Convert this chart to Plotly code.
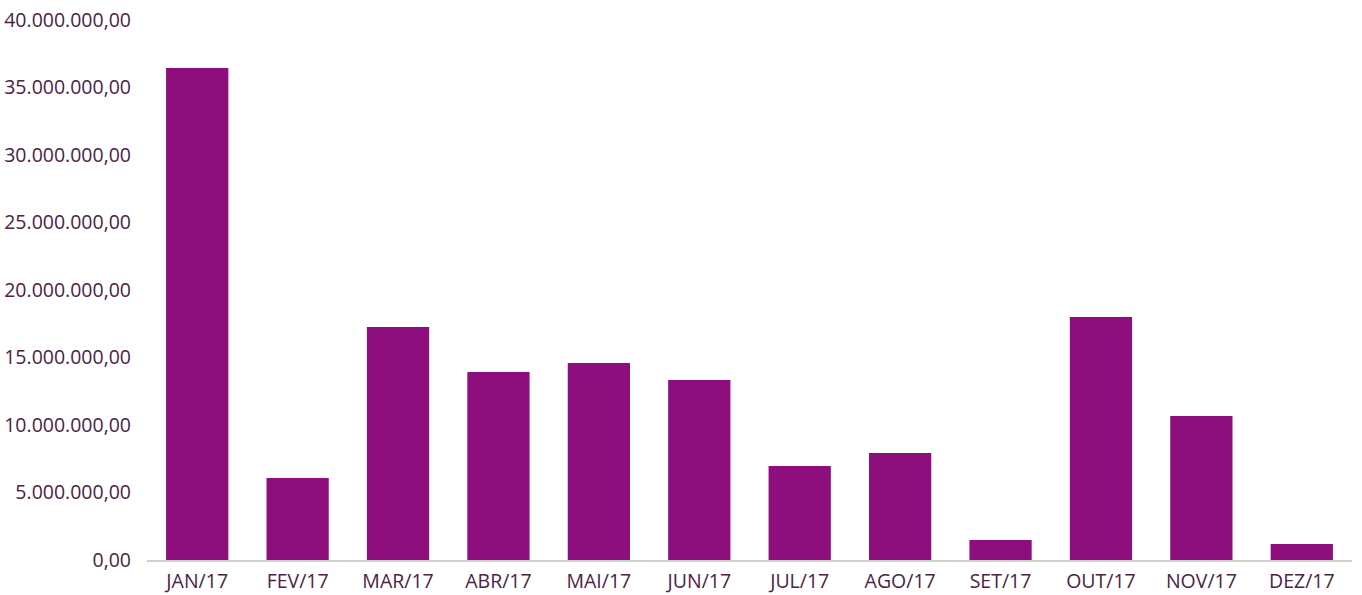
import plotly.graph_objects as go

months = ["JAN/17", "FEV/17", "MAR/17", "ABR/17", "MAI/17", "JUN/17",
          "JUL/17", "AGO/17", "SET/17", "OUT/17", "NOV/17", "DEZ/17"]
values = [36440000, 6070000, 17260000, 13930000, 14590000, 13330000,
          6960000, 7930000, 1480000, 18000000, 10670000, 1190000]
y_ticks = [0, 5000000, 10000000, 15000000, 20000000, 25000000,
           30000000, 35000000, 40000000]

text_color = "#4d2246"
bar_color = "#8f0e7e"

fig = go.Figure(go.Bar(x=months, y=values, marker_color=bar_color,
                       marker_line_width=0))

fig.update_layout(
    width=1362, height=595,
    margin=dict(l=147, r=10, t=20, b=35),
    plot_bgcolor="white", paper_bgcolor="white",
    separators=",.",
    bargap=0.38,
    font=dict(family="Open Sans, sans-serif", size=19.5, color=text_color),
    showlegend=False,
)
fig.update_yaxes(range=[0, 40000000], tickvals=y_ticks, tickformat=",.2f",
                 showgrid=False, zeroline=False, showline=False,
                 ticklabelstandoff=15, automargin=False,
                 ticklabeloverflow="allow")
fig.update_xaxes(showline=True, linecolor="#d0d0d0", linewidth=2,
                 showgrid=False, ticks="", ticklabelstandoff=3,
                 automargin=False, ticklabeloverflow="allow")

# remove the default 8px body margin so the figure fills the window exactly
fig.write_html("out.html",
               config={"displayModeBar": False},
               post_script="document.body.style.margin='0';document.body.style.overflow='hidden';")
